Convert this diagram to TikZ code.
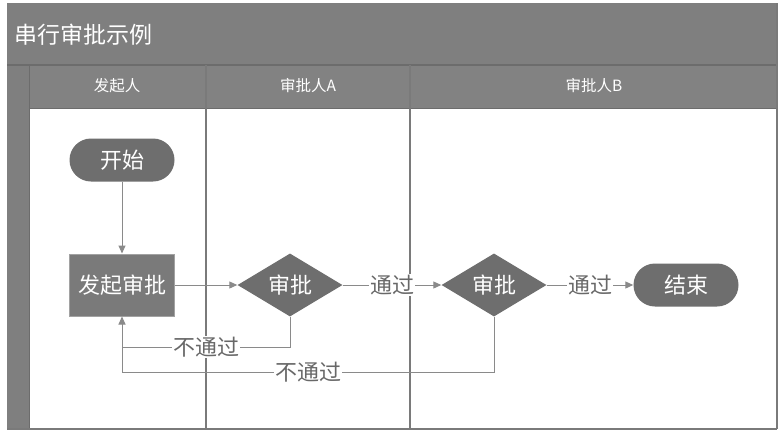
\documentclass[tikz,border=0pt]{standalone}
\usepackage{fontspec}
\newfontfamily\cjk{Noto Sans CJK SC}
\usetikzlibrary{arrows.meta,shapes.geometric}
\definecolor{barc}{HTML}{7F7F7F}
\definecolor{hdrc}{HTML}{828282}
\definecolor{hdrline}{HTML}{6C6C6C}
\definecolor{nodec}{HTML}{6E6E6E}
\definecolor{reqc}{HTML}{7A7A7A}
\definecolor{linec}{HTML}{8A8A8A}
\definecolor{lanec}{HTML}{7A7A7A}
\definecolor{lblc}{HTML}{686868}
\begin{document}
\begin{tikzpicture}[x=1pt,y=-1pt,
  conn/.style={draw=linec,line width=1pt},
  arr/.style={conn,-{Triangle[length=8pt,width=7pt]}},
  lbl/.style={fill=white,text=lblc,inner sep=1pt,font=\cjk\fontsize{22}{22}\selectfont},
  hdrtext/.style={text=white,font=\cjk\fontsize{15.5}{15.5}\selectfont},
  nodetext/.style={text=white,font=\cjk\fontsize{22}{22}\selectfont},
  termbox/.style={nodetext,rectangle,fill=nodec,rounded corners=21.5pt,minimum width=105pt,minimum height=43pt,inner sep=0pt},
  procbox/.style={nodetext,rectangle,fill=reqc,draw=reqc!70!white,line width=1pt,minimum width=105pt,minimum height=62pt,inner sep=0pt},
  decbox/.style={nodetext,diamond,fill=nodec,minimum width=105pt,minimum height=63pt,inner sep=0pt,aspect=1.67}
]
\useasboundingbox (0,0) rectangle (783,439);
\fill[white] (0,0) rectangle (783,439);
% title bar
\fill[barc] (7,3) rectangle (777,65);
\node[anchor=west,inner sep=0pt,text=white,font=\cjk\fontsize{23}{23}\selectfont] (title) at (14,35) {串行审批示例};
% left strip
\fill[barc] (7,65) rectangle (29,429);
% header row
\fill[hdrc] (29,65) rectangle (777,108);
\draw[hdrline,line width=1.2pt] (7,65) -- (777,65);
\draw[hdrline,line width=1pt] (29,65) -- (29,429);
\draw[hdrline,line width=1pt] (29,108) -- (777,108);
% lanes
\draw[lanec,line width=1.2pt] (206,65) -- (206,429);
\draw[lanec,line width=1.2pt] (410,65) -- (410,429);
\draw[lanec,line width=1.4pt] (777,3) -- (777,429);
\draw[lanec,line width=1.4pt] (7,429) -- (777,429);
\node[hdrtext] (h1) at (117,86) {发起人};
\node[hdrtext] (h2) at (308,86) {审批人A};
\node[hdrtext] (h3) at (594,86) {审批人B};
% nodes
\node[termbox] (start) at (122,160) {开始};
\node[procbox] (req) at (122,285) {发起审批};
\node[decbox] (dA) at (290,285) {审批};
\node[decbox] (dB) at (494,285) {审批};
\node[termbox] (fin) at (686,285) {结束};
% connectors
\draw[arr] (start) -- (req);
\draw[arr] (req) -- (dA);
\draw[arr] (dA) -- node[lbl]{通过} (dB);
\draw[arr] (dB) -- node[lbl]{通过} (fin);
\coordinate (a1) at (290,347);
\coordinate (a2) at (122,347);
\coordinate (b1) at (494,372);
\coordinate (b2) at (122,372);
\draw[conn] (dA.south) -- (a1) -- node[lbl]{不通过} (a2);
\draw[conn] (dB.south) -- (b1) -- node[lbl]{不通过} (b2);
\draw[arr] (b2) -- (req.south);
\end{tikzpicture}
\end{document}
